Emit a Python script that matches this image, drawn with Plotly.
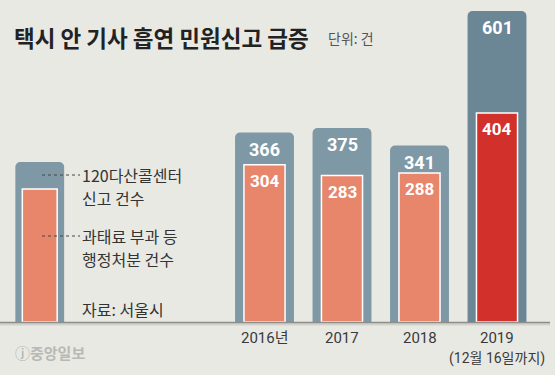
import plotly.graph_objects as go

# ---- data ----
years = ["2016년", "2017", "2018", "2019"]
year_sub = ["", "", "", "(12월 16일까지)"]
calls_120 = [366, 375, 341, 601]          # 120다산콜센터 신고 건수
penalties = [304, 283, 288, 404]          # 과태료 부과 등 행정처분 건수
legend_sample = [309, 257]                # decorative legend bar (outer, inner)

outer_colors = ["#7f98a6", "#7f98a6", "#7f98a6", "#6b8796"]
inner_colors = ["#e8866b", "#e8866b", "#e8866b", "#d2302a"]

BG = "#e9e9e4"
W, H = 555, 375
BASE = 322
xpos = list(range(len(years)))
LEG_X = -2.90

fig = go.Figure()
fig.add_trace(go.Bar(x=xpos, y=calls_120, width=0.76,
                     marker=dict(color=outer_colors, cornerradius=5, line=dict(width=0)), hoverinfo="skip"))
fig.add_trace(go.Bar(x=xpos, y=penalties, width=0.53,
                     marker=dict(color=inner_colors, cornerradius=5, line=dict(width=1.5, color="white")), hoverinfo="skip"))
fig.add_trace(go.Bar(x=[LEG_X], y=[legend_sample[0]], width=0.63,
                     marker=dict(color="#7f98a6", cornerradius=5, line=dict(width=0)), hoverinfo="skip"))
fig.add_trace(go.Bar(x=[LEG_X], y=[legend_sample[1]], width=0.45,
                     marker=dict(color="#e8866b", cornerradius=5, line=dict(width=1.5, color="white")), hoverinfo="skip"))

ann = []
for i, (a, b) in enumerate(zip(calls_120, penalties)):
    ann.append(dict(x=i, y=a, xref="x", yref="y", text=f"<b>{a}</b>", showarrow=False, yanchor="top", yshift=-4,
                    font=dict(family="Roboto", size=18, color="white")))
    ann.append(dict(x=i, y=b, xref="x", yref="y", text=f"<b>{b}</b>", showarrow=False, yanchor="top", yshift=-4,
                    font=dict(family="Roboto", size=17, color="white")))
    ann.append(dict(x=i, y=0, xref="x", yref="y", text=years[i], showarrow=False, yanchor="middle", yshift=-16,
                    font=dict(family="Roboto, Noto Sans CJK KR", size=15, color="#3a3a3a")))
    if year_sub[i]:
        ann.append(dict(x=i, y=0, xref="x", yref="y", text=year_sub[i], showarrow=False, yanchor="middle",
                        yshift=-36, font=dict(family="Roboto, Noto Sans CJK KR", size=14, color="#3a3a3a")))

def px(x): return x / W
def py(y): return 1 - y / H

def ptext(x, y, t, size=15, color="#333", anchor="left"):
    ann.append(dict(x=px(x), y=py(y), xref="paper", yref="paper", text=t, showarrow=False, xanchor=anchor,
                    yanchor="middle", font=dict(family="Noto Sans CJK KR", size=size, color=color)))

ptext(12, 37, "<b>택시 안 기사 흡연 민원신고 급증</b>", size=22.5, color="#222")
ptext(326, 38, "단위: 건", size=14, color="#555")
ptext(80, 175, "120다산콜센터", size=16)
ptext(80, 198, "신고 건수", size=16)
ptext(80, 236, "과태료 부과 등", size=16)
ptext(80, 259, "행정처분 건수", size=16)
ptext(80, 309, "자료: 서울시", size=16)
ptext(13, 352, "<b>ⓙ중앙일보</b>", size=15, color="#b8b8b4")

shapes = [
    dict(type="line", xref="paper", yref="paper", x0=px(42), x1=px(80), y0=py(175), y1=py(175),
         line=dict(color="#444", width=1, dash="dot")),
    dict(type="line", xref="paper", yref="paper", x0=px(42), x1=px(80), y0=py(236), y1=py(236),
         line=dict(color="#444", width=1, dash="dot")),
    dict(type="line", xref="paper", yref="paper", x0=0, x1=px(550), y0=py(BASE + 2), y1=py(BASE + 2),
         line=dict(color="#d2d2cd", width=3)),
    dict(type="line", xref="paper", yref="paper", x0=0, x1=px(550), y0=py(BASE + 0.5), y1=py(BASE + 0.5),
         line=dict(color="#8d8d8a", width=1.5)),
]

PXU = 77.5
x0 = -264.5 / PXU
x1 = (W - 264.5) / PXU
fig.update_layout(
    width=W, height=H, margin=dict(l=0, r=0, t=0, b=0),
    paper_bgcolor=BG, plot_bgcolor=BG, barmode="overlay", showlegend=False,
    xaxis=dict(range=[x0, x1], domain=[0, 1], visible=False, fixedrange=True),
    yaxis=dict(range=[0, BASE / 0.5175], domain=[(H - BASE) / H, 1], visible=False, fixedrange=True),
    annotations=ann, shapes=shapes,
)
fig.write_html("out.html", config={"displayModeBar": False},
               post_script="document.body.style.margin='0';document.body.style.overflow='hidden';"
                           "document.body.style.background='" + BG + "';")
